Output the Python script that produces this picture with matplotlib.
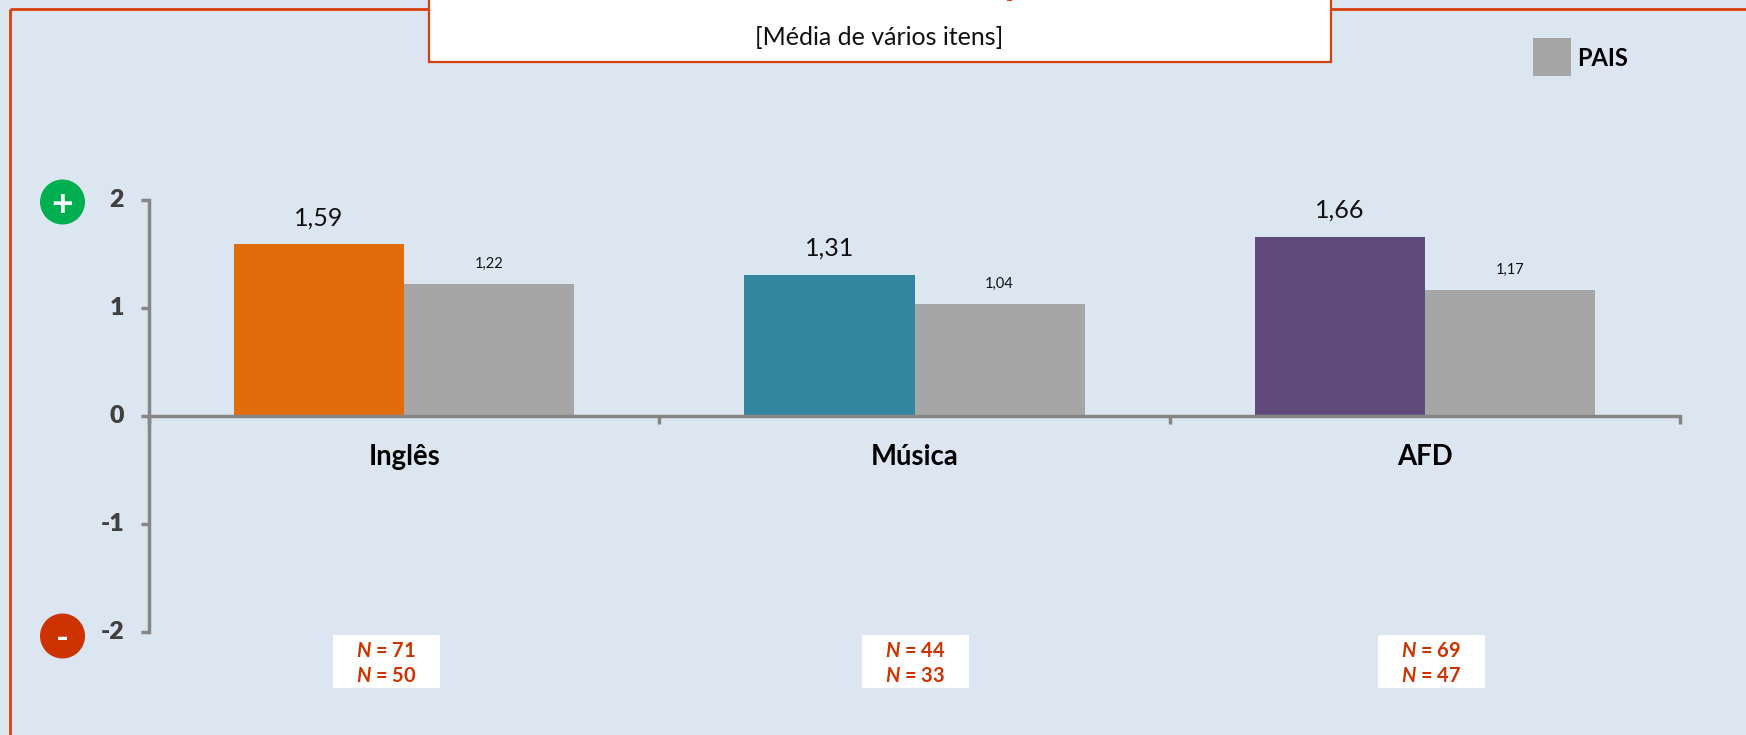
import matplotlib

matplotlib.use("Agg")
import matplotlib.pyplot as plt
from matplotlib.patches import Ellipse, Rectangle
from matplotlib.transforms import ScaledTranslation

W, H = 1746, 735

categories = ["Inglês", "Música", "AFD"]
school_values = [1.59, 1.31, 1.66]
pais_values = [1.22, 1.04, 1.17]
school_labels = ["1,59", "1,31", "1,66"]
pais_labels = ["1,22", "1,04", "1,17"]
school_colors = ["#E36C0A", "#31859C", "#604A7B"]
n_top = [71, 44, 69]
n_bottom = [50, 33, 47]
y_ticks = [-2, -1, 0, 1, 2]

BG = "#DCE6F1"
RED = "#D9400F"
GREY = "#A6A6A6"
AXIS = "#868686"
LABEL = "#404040"
NRED = "#CC3300"

plt.rcParams["font.family"] = ["Lato", "DejaVu Sans"]
plt.rcParams["mathtext.fontset"] = "custom"
plt.rcParams["mathtext.bfit"] = "Lato:italic:bold"

fig = plt.figure(figsize=(W / 100, H / 100), dpi=100, facecolor=BG)


def px_x(x):
    return x / W


def px_y(y):
    return 1 - y / H


# frame and title box, in figure pixels
bg = fig.add_axes([0, 0, 1, 1], zorder=0)
bg.set_xlim(0, W)
bg.set_ylim(H, 0)
bg.axis("off")
bg.plot([10, 10], [735, 9], color=RED, lw=2, solid_capstyle="butt", zorder=1)
bg.plot([10, 1746], [9, 9], color=RED, lw=2, solid_capstyle="butt", zorder=1)
bg.add_patch(Rectangle((429, -5), 902, 67, fc="white", ec=RED, lw=1.6, zorder=2))
bg.add_patch(Rectangle((1007, 0), 5, 1, fc=RED, ec="none", zorder=3))
bg.text(879, 37, "[Média de vários itens]", ha="center", va="center",
        fontsize=18, color="#111111", zorder=3)

# legend
bg.add_patch(Rectangle((1533, 38), 38, 38, fc=GREY, ec="none"))
bg.text(1577, 58, "PAIS", ha="left", va="center", fontsize=17,
        fontweight="bold", color="black")

# plus / minus badges
bg.add_patch(Ellipse((62.5, 202), 45, 45, fc="#00B050", ec="none"))
bg.text(62.5, 205, "+", ha="center", va="center", fontsize=27,
        fontweight="bold", color="white")
bg.add_patch(Ellipse((62.5, 636), 45, 45, fc="#CC3300", ec="none"))
bg.text(62.5, 639, "-", ha="center", va="center", fontsize=25,
        fontweight="bold", color="white")

# chart
ax = fig.add_axes([px_x(149), px_y(632), px_x(1680 - 149), 432 / H], zorder=1)
ax.patch.set_alpha(0)
ax.set_xlim(-0.5, 2.5)
ax.set_ylim(-2, 2)
bar_w = 1 / 3
xs = range(len(categories))
ax.bar([x - bar_w / 2 for x in xs], school_values, bar_w, color=school_colors,
       linewidth=0, zorder=2)
ax.bar([x + bar_w / 2 for x in xs], pais_values, bar_w, color=GREY,
       linewidth=0, zorder=2)

for x, v, s in zip(xs, school_values, school_labels):
    ax.annotate(s, (x - bar_w / 2, v), xytext=(0, 15), textcoords="offset pixels",
                ha="center", va="bottom", fontsize=18, color="#111111")
for x, v, s in zip(xs, pais_values, pais_labels):
    ax.annotate(s, (x + bar_w / 2, v), xytext=(0, 13), textcoords="offset pixels",
                ha="center", va="bottom", fontsize=10.5, color="#111111")

for side in ["top", "right"]:
    ax.spines[side].set_visible(False)
ax.spines["left"].set_color(AXIS)
ax.spines["left"].set_linewidth(2.5)
ax.spines["bottom"].set_position(("data", 0))
ax.spines["bottom"].set_color(AXIS)
ax.spines["bottom"].set_linewidth(2.5)

ax.set_yticks(y_ticks)
ax.set_yticklabels([str(t) for t in y_ticks], fontsize=18, fontweight="heavy", color=LABEL)
ax.tick_params(axis="y", length=6, width=2.5, color=AXIS, pad=12)
for lab in ax.get_yticklabels():
    lab.set_transform(lab.get_transform() + ScaledTranslation(0, 2 / 100, fig.dpi_scale_trans))
ax.set_xticks([-0.5, 0.5, 1.5, 2.5])
ax.set_xticklabels([])
ax.tick_params(axis="x", direction="out", length=6, width=2.5, color=AXIS)

for x, c in zip(xs, categories):
    ax.annotate(c, (x, 0), xytext=(0, -41), textcoords="offset pixels", ha="center",
                va="center", fontsize=19.8, fontweight="bold", color="black")

# N boxes
for cx, a, b in zip([386, 915, 1431], n_top, n_bottom):
    bg.add_patch(Rectangle((cx - 53.5, 635), 107, 53, fc="white", ec="none"))
    bg.text(cx, 651, rf"$\mathbfit{{N}}$ = {a}", ha="center", va="center",
            fontsize=14.5, fontweight="bold", color=NRED)
    bg.text(cx, 676, rf"$\mathbfit{{N}}$ = {b}", ha="center", va="center",
            fontsize=14.5, fontweight="bold", color=NRED)

fig.savefig("out.png", dpi=100, facecolor=BG)
